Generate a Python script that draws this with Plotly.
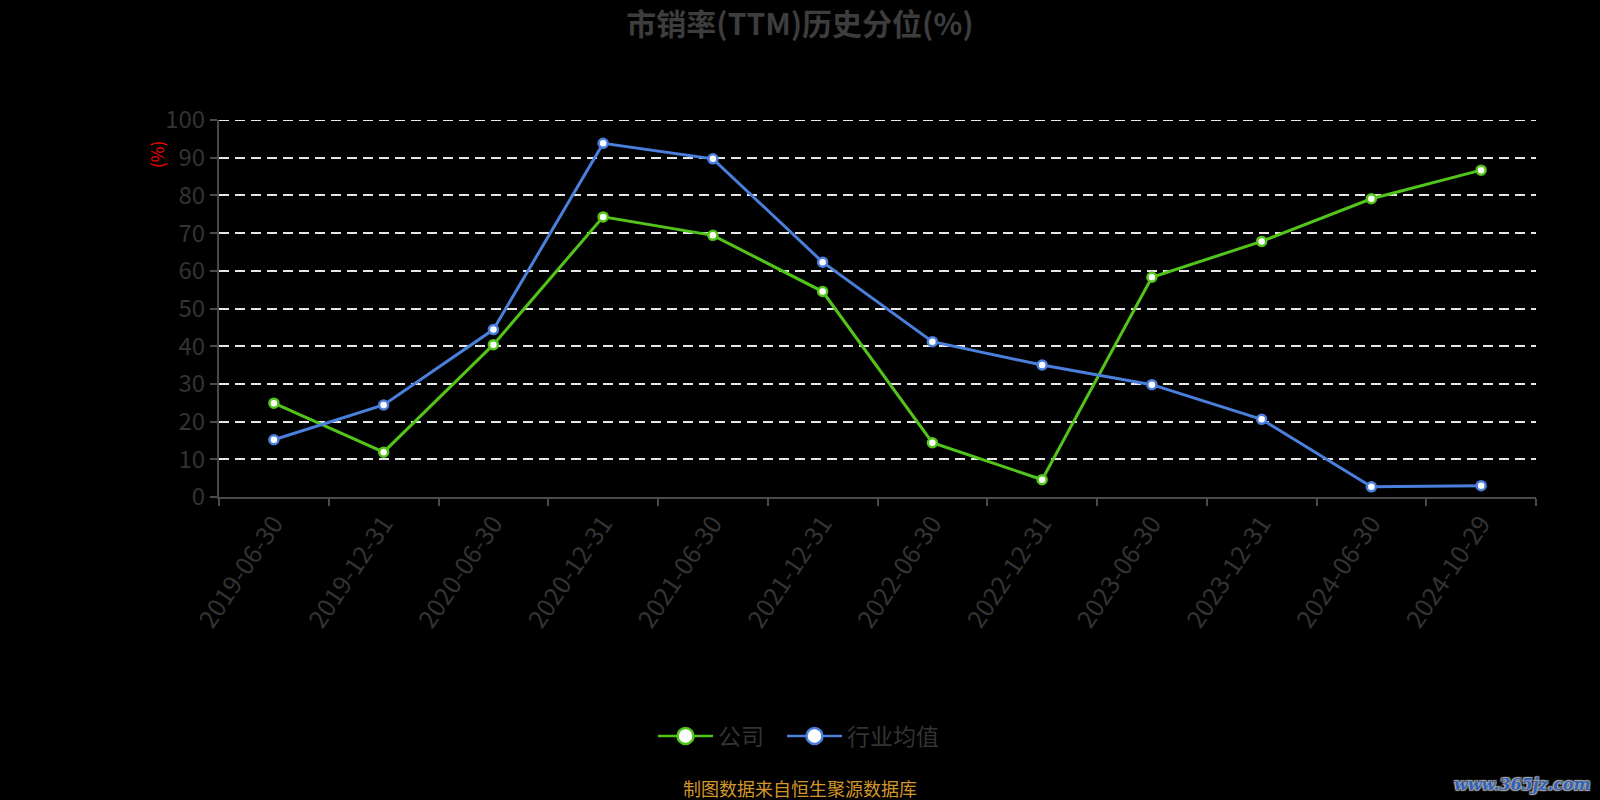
import plotly.graph_objects as go

dates = ["2019-06-30", "2019-12-31", "2020-06-30", "2020-12-31", "2021-06-30", "2021-12-31",
         "2022-06-30", "2022-12-31", "2023-06-30", "2023-12-31", "2024-06-30", "2024-10-29"]
company = [24.9, 11.9, 40.4, 74.3, 69.4, 54.5, 14.4, 4.6, 58.3, 67.8, 79.1, 86.7]
industry = [15.2, 24.4, 44.4, 93.8, 89.7, 62.3, 41.2, 35.0, 29.8, 20.6, 2.7, 3.0]
yticks = [0, 10, 20, 30, 40, 50, 60, 70, 80, 90, 100]
series_names = ["公司", "行业均值"]

FONT = "Noto Sans CJK SC"
GREEN = "#52c41a"
BLUE = "#4a7fdc"

fig = go.Figure()
for name, vals, col, lg in [(series_names[0], company, GREEN, "legend"),
                            (series_names[1], industry, BLUE, "legend2")]:
    fig.add_trace(go.Scatter(
        x=dates, y=vals, name=name, mode="lines+markers", showlegend=False,
        line=dict(color=col, width=3),
        marker=dict(size=9, color="white", line=dict(color=col, width=2.5)),
    ))
    # legend entry with a larger symbol
    fig.add_trace(go.Scatter(
        x=[None], y=[None], name=name, mode="lines+markers", showlegend=True, legend=lg,
        line=dict(color=col, width=2.5),
        marker=dict(size=22, color="white", line=dict(color=col, width=2.5)),
    ))

legend_common = dict(orientation="h", xref="container", xanchor="left",
                     yref="container", y=1 - 736 / 800, yanchor="middle",
                     font=dict(size=23, color="#333333", family=FONT),
                     bgcolor="rgba(0,0,0,0)", itemwidth=55)

fig.update_layout(
    width=1600, height=800,
    paper_bgcolor="black", plot_bgcolor="black",
    margin=dict(l=219, r=64, t=120, b=303),
    font=dict(family=FONT, color="#3a3a3a"),
    title=dict(text="<b>市销率(TTM)历史分位(%)</b>", x=0.5, xanchor="center",
               y=1 - 24 / 800, yanchor="middle",
               font=dict(size=30, color="#3d3d3d", family=FONT)),
    showlegend=True,
    legend=dict(x=(658 - 5) / 1600, **legend_common),
    legend2=dict(x=(787 - 5) / 1600, **legend_common),
    xaxis=dict(
        type="category", tickson="boundaries", range=[-0.5, 11.5],
        showgrid=False, showline=True, linecolor="#4a4a4a", linewidth=2,
        ticks="outside", ticklen=7, tickwidth=2, tickcolor="#4a4a4a",
        tickangle=-56, tickfont=dict(size=25, color="#333333", family=FONT),
        zeroline=False,
    ),
    yaxis=dict(
        range=[0, 100], tickvals=yticks, ticktext=[str(v) for v in yticks],
        showgrid=True, gridcolor="#e6e6e6", gridwidth=2, griddash="10px,6px",
        showline=True, linecolor="#4a4a4a", linewidth=2,
        ticks="outside", ticklen=7, tickwidth=2, tickcolor="#4a4a4a",
        tickfont=dict(size=24, color="#333333", family=FONT),
        zeroline=False,
    ),
)

# top gridline at 100 (plotly skips the one on the plot edge)
fig.add_shape(type="line", xref="paper", yref="y", x0=0, x1=1, y0=100, y1=100,
              line=dict(color="#e6e6e6", width=2, dash="10px,6px"), layer="below")

fig.add_annotation(text="(%)", xref="paper", yref="paper", x=(156 - 219) / 1317, y=(497 - 155) / 377,
                   xanchor="center", yanchor="middle", textangle=-90, showarrow=False,
                   font=dict(size=17, color="#ff0000", family=FONT))
fig.add_annotation(text="制图数据来自恒生聚源数据库", xref="paper", yref="paper",
                   x=(800 - 219) / 1317, y=(497 - 788) / 377, xanchor="center", yanchor="middle",
                   showarrow=False, font=dict(size=18, color="#d4962a", family=FONT))
fig.add_annotation(text="<b><i>www.365jz.com</i></b>", xref="paper", yref="paper",
                   x=(1592 - 219) / 1317, y=(497 - 784) / 377, xanchor="right", yanchor="middle",
                   showarrow=False,
                   font=dict(size=16, color="#2f62b8", family="DejaVu Serif",
                             shadow="1px 1px 1px #aaaaaa, -1px -1px 1px #aaaaaa, 1px -1px 1px #aaaaaa, -1px 1px 1px #aaaaaa"))

fig.write_html("out.html", config={"displayModeBar": False},
               post_script="document.body.style.margin='0';document.body.style.background='black';")
